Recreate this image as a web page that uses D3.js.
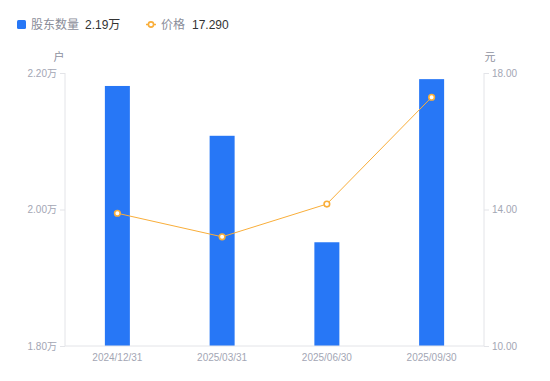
<!DOCTYPE html>
<html><head><meta charset="utf-8">
<script src="https://cdn.jsdelivr.net/npm/d3@7"></script>
<style>
html,body{margin:0;padding:0;background:#fff;}
svg{display:block;font-family:"Liberation Sans","Noto Sans CJK SC",sans-serif;}
</style></head>
<body>
<svg id="chart" width="550" height="381"></svg>
<script>
const categories = ["2024/12/31","2025/03/31","2025/06/30","2025/09/30"];
const holders = [2.181, 2.108, 1.952, 2.191]; // 万户
const prices = [13.89, 13.20, 14.16, 17.29];  // 元
const leftTicks = [1.80, 2.00, 2.20];
const rightTicks = [10.00, 14.00, 18.00];
const legendItems = [
  {name:"股东数量", value:"2.19万"},
  {name:"价格", value:"17.290"}
];

const barColor = "#2777F6";
const lineColor = "#F9AE3A";
const axisColor = "#E3E4E8";
const tickTextColor = "#A3A6B4";

const svg = d3.select("#chart");
const m = {left:65, right:66, top:73, bottom:35};
const W = 550, H = 381;

const x = d3.scaleBand().domain(categories).range([m.left, W - m.right]).paddingInner(0).paddingOuter(0);
const yL = d3.scaleLinear().domain([1.80, 2.20]).range([H - m.bottom, m.top]);
const yR = d3.scaleLinear().domain([10, 18]).range([H - m.bottom, m.top]);

// Bars
const bw = 25;
svg.append("g").selectAll("rect").data(holders).join("rect")
  .attr("x", (d,i) => x(categories[i]) + x.bandwidth()/2 - bw/2)
  .attr("y", d => yL(d))
  .attr("width", bw)
  .attr("height", d => yL(1.80) - yL(d))
  .attr("fill", barColor);

// Axes
const leftAxis = svg.append("g").attr("transform", `translate(${m.left},0)`)
  .call(d3.axisLeft(yL).tickValues(leftTicks).tickSize(5).tickPadding(3).tickFormat(d => d3.format(".2f")(d) + "万"));
const rightAxis = svg.append("g").attr("transform", `translate(${W - m.right},0)`)
  .call(d3.axisRight(yR).tickValues(rightTicks).tickSize(5).tickPadding(3).tickFormat(d3.format(".2f")));
const bottomAxis = svg.append("g").attr("transform", `translate(0,${H - m.bottom})`)
  .call(d3.axisBottom(x).tickSize(0).tickPadding(8));

[leftAxis, rightAxis, bottomAxis].forEach(g => {
  g.selectAll("path.domain").attr("stroke", axisColor).attr("stroke-width", 1);
  g.selectAll(".tick line").attr("stroke", axisColor);
  g.selectAll(".tick text").attr("fill", tickTextColor).attr("font-size", 10)
    .attr("font-family", "Liberation Sans, Noto Sans CJK SC, sans-serif");
});
leftAxis.select("path.domain").attr("d", `M0,${m.top}V${H - m.bottom}`);
rightAxis.select("path.domain").attr("d", `M0,${m.top}V${H - m.bottom}`);
bottomAxis.select("path.domain").attr("d", `M${m.left},0H${W - m.right}`);

// Unit labels
svg.append("text").attr("x", 59).attr("y", 61).attr("text-anchor","middle")
  .attr("font-size", 11).attr("fill", "#8E919E").text("户");
svg.append("text").attr("x", 490).attr("y", 61).attr("text-anchor","middle")
  .attr("font-size", 11).attr("fill", "#8E919E").text("元");

// Line
const line = d3.line().x((d,i) => x(categories[i]) + x.bandwidth()/2).y(d => yR(d));
svg.append("path").datum(prices).attr("d", line)
  .attr("fill","none").attr("stroke", lineColor).attr("stroke-width", 1);
svg.append("g").selectAll("circle").data(prices).join("circle")
  .attr("cx", (d,i) => x(categories[i]) + x.bandwidth()/2)
  .attr("cy", d => yR(d))
  .attr("r", 2.8)
  .attr("fill", "#fff").attr("stroke", lineColor).attr("stroke-width", 1.6);

// Legend
const lg = svg.append("g");
lg.append("rect").attr("x", 17).attr("y", 20).attr("width", 9).attr("height", 9).attr("rx", 1.5).attr("fill", barColor);
lg.append("text").attr("x", 31).attr("y", 29).attr("font-size", 12).attr("fill", "#8A8D99").text(legendItems[0].name);
lg.append("text").attr("x", 85).attr("y", 29).attr("font-size", 12).attr("fill", "#333").text(legendItems[0].value);
lg.append("line").attr("x1", 146).attr("x2", 156).attr("y1", 24.5).attr("y2", 24.5).attr("stroke", lineColor).attr("stroke-width", 1.5);
lg.append("circle").attr("cx", 151).attr("cy", 24.5).attr("r", 2.6).attr("fill", "#fff").attr("stroke", lineColor).attr("stroke-width", 1.6);
lg.append("text").attr("x", 161).attr("y", 29).attr("font-size", 12).attr("fill", "#8A8D99").text(legendItems[1].name);
lg.append("text").attr("x", 192).attr("y", 29).attr("font-size", 12).attr("fill", "#333").text(legendItems[1].value);
</script>
</body></html>
